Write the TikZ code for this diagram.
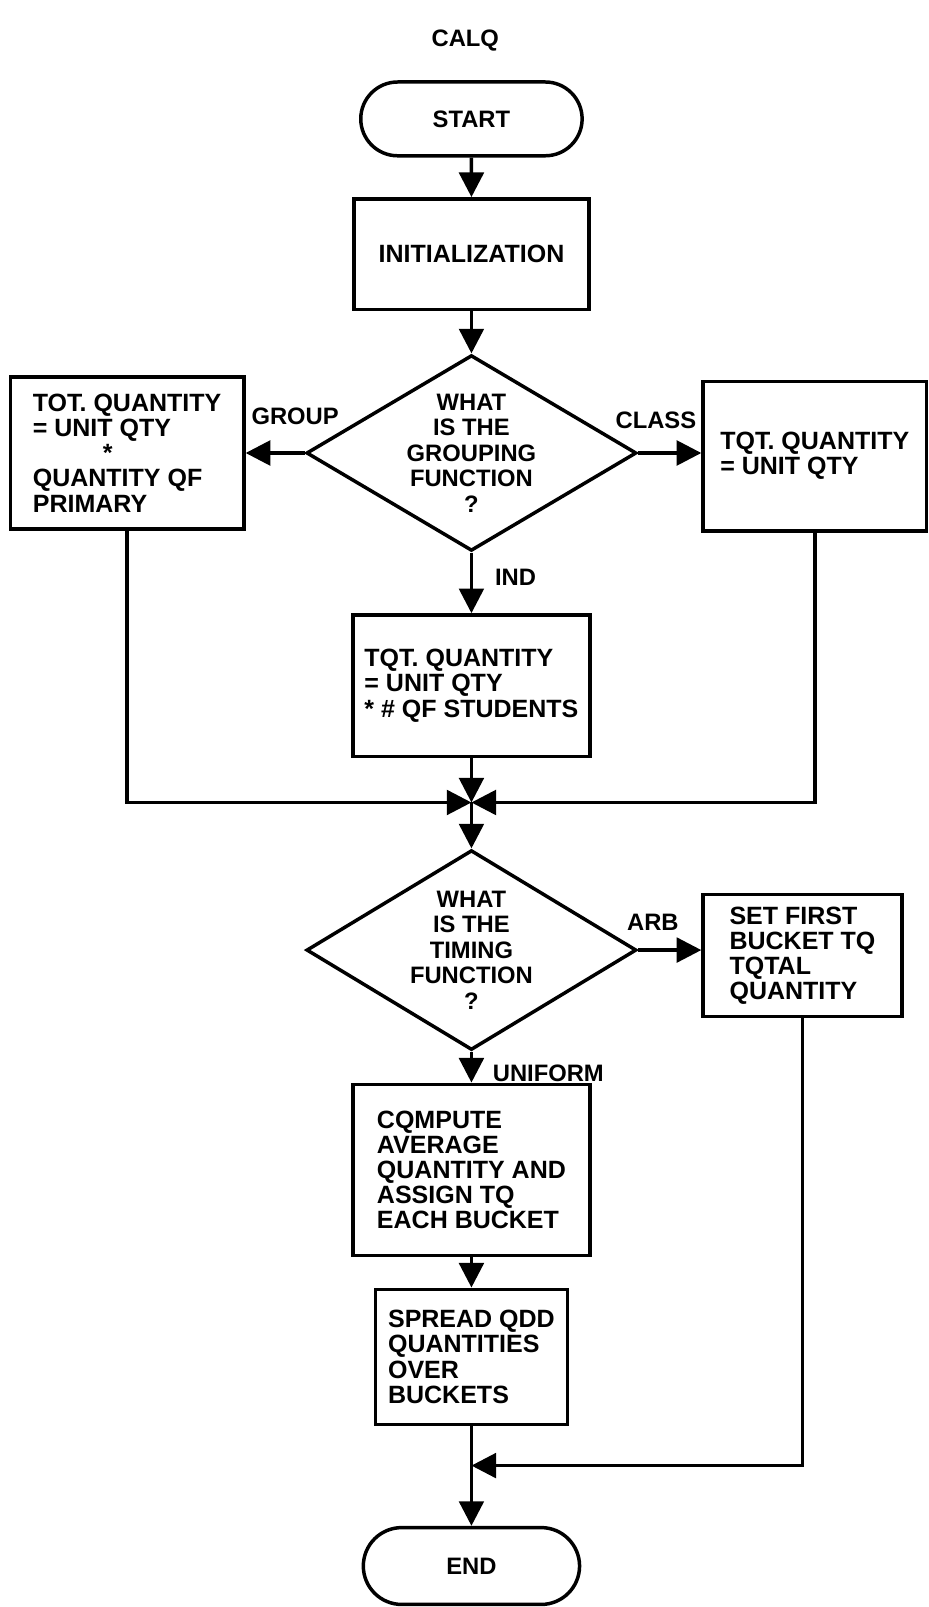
\documentclass[tikz,border=0pt]{standalone}
\usepackage{fontspec}
\setmainfont{Liberation Sans}
\usetikzlibrary{shapes.geometric,shapes.misc,arrows.meta}

\tikzset{
  every node/.style={font=\fontsize{11.6}{12.4}\selectfont\bfseries},
  flowbox/.style={draw, line width=1.7pt, rectangle, align=left, inner sep=0pt,
    font=\fontsize{12.2}{12.3}\selectfont\bfseries},
  term/.style={draw, line width=1.7pt, rounded rectangle, inner sep=0pt},
  decide/.style={draw, line width=1.7pt, diamond, align=center, inner sep=0pt, aspect=1.7},
  arr/.style={line width=1.7pt, -{Triangle[length=12pt,width=12pt]}},
  lbl/.style={inner sep=0pt},
}

\begin{document}
\begin{tikzpicture}[x=0.5pt, y=-0.5pt]
  \useasboundingbox (0,0) rectangle (906,1568);

  \node[lbl] (title) at (454,40) {CALQ};

  % main column
  \node[term, minimum width=108pt, minimum height=36pt] (start) at (460,116) {START};
  \node[flowbox, minimum width=114.5pt, minimum height=54pt] (init) at (460,248) {INITIALIZATION};
  \node[decide, minimum width=161pt, minimum height=95.5pt] (group) at (460,442)
    {WHAT\\IS THE\\GROUPING\\FUNCTION\\?};

  % the three grouping cases
  \node[flowbox, minimum width=114pt, minimum height=74pt] (grp) at (124,442)
    {TOT. QUANTITY\\= UNIT QTY\\\hspace*{2.8em}*\\QUANTITY QF\\PRIMARY};
  \node[flowbox, minimum width=109pt, minimum height=73pt] (cls) at (795,445)
    {TQT. QUANTITY\\= UNIT QTY};
  \node[flowbox, minimum width=115.5pt, minimum height=69pt] (ind) at (460,669)
    {TQT. QUANTITY\\= UNIT QTY\\* \# QF STUDENTS};
  \coordinate (join) at (460,783);

  \node[decide, minimum width=161pt, minimum height=97.5pt] (timing) at (460,927)
    {WHAT\\IS THE\\TIMING\\FUNCTION\\?};
  \node[flowbox, minimum width=97pt, minimum height=59.5pt] (arb) at (783,932.5)
    {SET FIRST\\BUCKET TQ\\TQTAL\\QUANTITY};
  \node[flowbox, minimum width=115.5pt, minimum height=83.5pt] (avg) at (460,1141.5)
    {CQMPUTE\\AVERAGE\\QUANTITY AND\\ASSIGN TQ\\EACH BUCKET};
  \node[flowbox, minimum width=93.5pt, minimum height=66pt] (spread) at (460,1324)
    {SPREAD QDD\\QUANTITIES\\OVER\\BUCKETS};
  \coordinate (join2) at (460,1430);
  \node[term, minimum width=105.5pt, minimum height=37.5pt] (end) at (460,1528) {END};

  % branch labels
  \node[lbl] (lgroup) at (288,406) {GROUP};
  \node[lbl] (lclass) at (640,410) {CLASS};
  \node[lbl] (lind) at (503,563) {IND};
  \node[lbl] (larb) at (637,900) {ARB};
  \node[lbl] (lunif) at (535,1047) {UNIFORM};

  % connectors
  \draw[arr] (start) -- (init);
  \draw[arr] (init) -- (group);
  \draw[arr] (group.west) -- (grp.east |- group.west);
  \draw[arr] (group.east) -- (cls.west |- group.east);
  \draw[arr] (group) -- (ind);
  \draw[arr] (grp.south) |- (join);
  \draw[arr] (cls.south) |- (join);
  \draw[arr] (ind) -- (join);
  \draw[arr] (join) -- (timing);
  \draw[arr] (timing.east) -- (arb.west |- timing.east);
  \draw[arr] (timing) -- (avg);
  \draw[arr] (avg) -- (spread);
  \draw[arr] (arb.south) |- (join2);
  \draw[arr] (spread) -- (end);
\end{tikzpicture}
\end{document}
